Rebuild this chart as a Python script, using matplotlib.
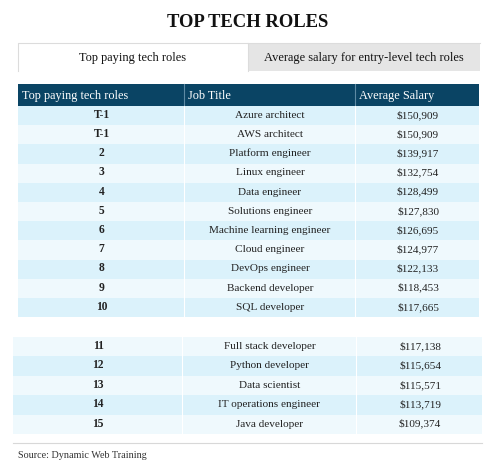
import matplotlib
matplotlib.use("Agg")
import matplotlib.pyplot as plt
from matplotlib.patches import Rectangle

plt.rcParams['font.family'] = ['Liberation Serif', 'DejaVu Serif']

title = "TOP TECH ROLES"
tabs = ["Top paying tech roles", "Average salary for entry-level tech roles"]
columns = ["Top paying tech roles", "Job Title", "Average Salary"]
ranks_top = ["T-1", "T-1", "2", "3", "4", "5", "6", "7", "8", "9", "10"]
jobs_top = ["Azure architect", "AWS architect", "Platform engineer", "Linux engineer",
            "Data engineer", "Solutions engineer", "Machine learning engineer",
            "Cloud engineer", "DevOps engineer", "Backend developer", "SQL developer"]
salaries_top = [150909, 150909, 139917, 132754, 128499, 127830, 126695,
                124977, 122133, 118453, 117665]
ranks_more = ["11", "12", "13", "14", "15"]
jobs_more = ["Full stack developer", "Python developer", "Data scientist",
             "IT operations engineer", "Java developer"]
salaries_more = [117138, 115654, 115571, 113719, 109374]
source = "Source: Dynamic Web Training"

NAVY = "#0a4464"
DARK = "#dbf2fb"
LIGHT = "#eff9fd"
TXT = "#222222"

fig = plt.figure(figsize=(5.0, 4.72), dpi=100)
ax = fig.add_axes([0, 0, 1, 1])
ax.set_xlim(0, 500)
ax.set_ylim(472, 0)
ax.axis('off')

# title
ax.text(248, 27, title, ha='center', va='baseline', fontsize=13.4,
        fontweight='bold', color='#111111')

# tabs
ax.add_patch(Rectangle((18, 42.5), 462, 28.5, facecolor='#e5e5e5', edgecolor='none'))
ax.add_patch(Rectangle((18, 42.5), 230, 28.5, facecolor='white', edgecolor='none'))
ax.plot([18, 18, 248, 248], [71, 42.5, 42.5, 71], color='#dcdcdc', lw=0.8)
ax.plot([248, 480], [42.5, 42.5], color='#dcdcdc', lw=0.8)
ax.text(133, 60.5, tabs[0], ha='center', va='baseline', fontsize=8.9, color='#111111')
ax.text(364, 60.5, tabs[1], ha='center', va='baseline', fontsize=8.9, color='#111111')


def draw_table(x0, x1, cx1, cx2, y0, row_h, ranks, jobs, sals, start_dark, header=False):
    y = y0
    if header:
        hh = 22
        ax.add_patch(Rectangle((x0, y), x1 - x0, hh, facecolor=NAVY, edgecolor='none'))
        for cx in (cx1, cx2):
            ax.plot([cx, cx], [y, y + hh], color='#5d8aa3', lw=0.8)
        yb = y + hh / 2 + 4
        ax.text(x0 + 4, yb, columns[0], ha='left', va='baseline',
                fontsize=8.8, color='white')
        ax.text(cx1 + 4, yb, columns[1], ha='left', va='baseline',
                fontsize=8.8, color='white')
        ax.text(cx2 + 4, yb, columns[2], ha='left', va='baseline',
                fontsize=8.8, color='white')
        y += hh
    for i, (r, j, s) in enumerate(zip(ranks, jobs, sals)):
        dark = (i % 2 == 0) == start_dark
        ax.add_patch(Rectangle((x0, y), x1 - x0, row_h,
                               facecolor=DARK if dark else LIGHT, edgecolor='none'))
        for cx in (cx1, cx2):
            ax.plot([cx, cx], [y, y + row_h], color='white', lw=0.8)
        yb = y + row_h / 2 + 2.2
        ax.text((x0 + cx1) / 2 + 0.5, yb, r, ha='center', va='baseline',
                fontsize=8.3, fontweight='bold', color=TXT)
        ax.text((cx1 + cx2) / 2 + 0.5, yb, j, ha='center', va='baseline',
                fontsize=8.1, color=TXT)
        ax.text((cx2 + x1) / 2 + 1, yb, f"${s:,}", ha='center', va='baseline',
                fontsize=8.1, color=TXT)
        y += row_h
    return y


draw_table(18, 479, 184, 355, 84, 19.2, ranks_top, jobs_top, salaries_top, True, header=True)
draw_table(13, 482, 182, 356, 337, 19.45, ranks_more, jobs_more, salaries_more, False)

ax.plot([13, 482], [442.5, 442.5], color='#d8d8d8', lw=0.8)
ax.text(18, 458, source, ha='left', va='baseline', fontsize=7.3, color='#333333')

fig.savefig("out.png", dpi=100)
